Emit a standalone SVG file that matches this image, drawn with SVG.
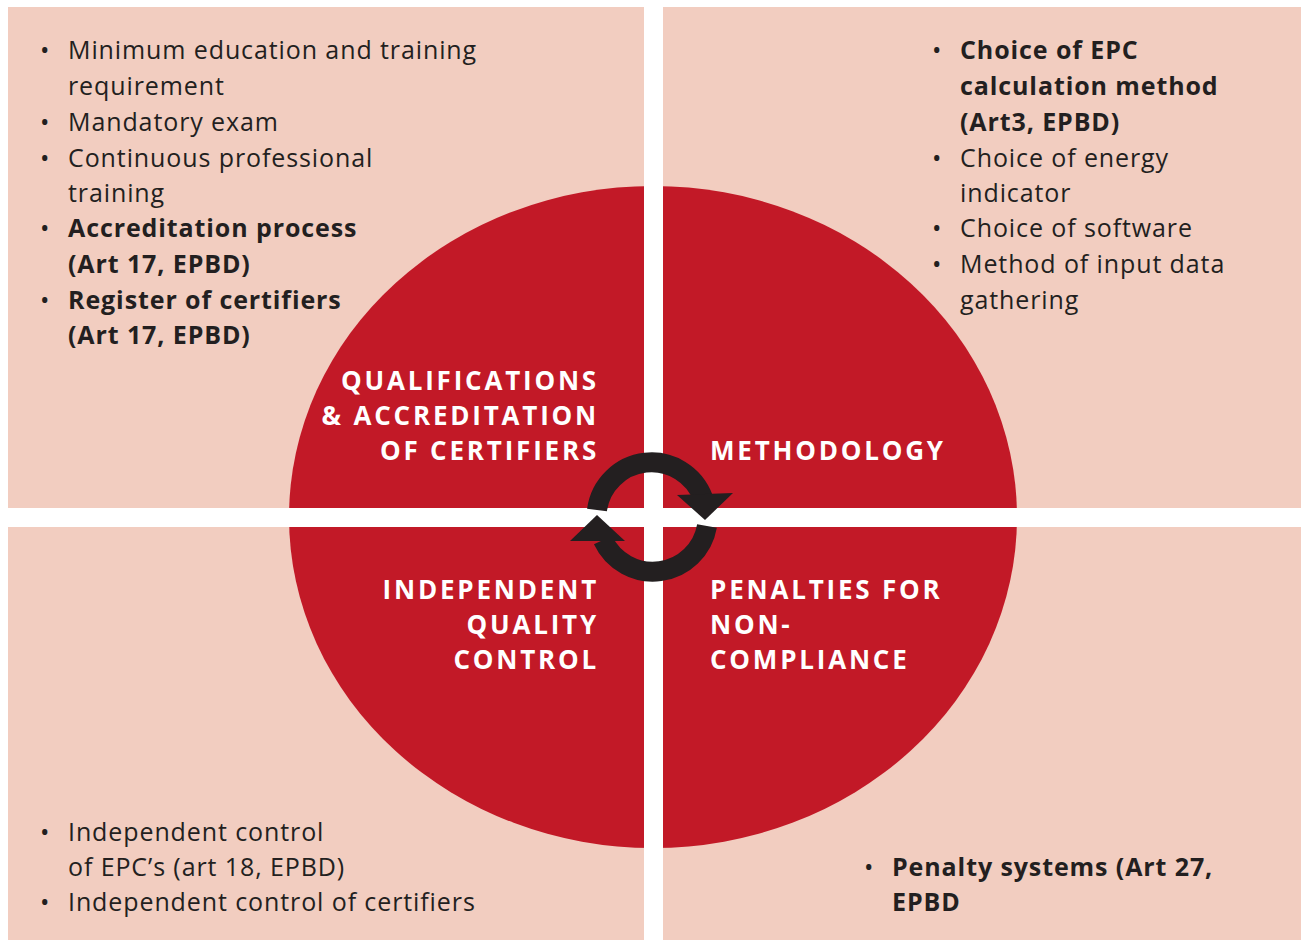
<svg xmlns="http://www.w3.org/2000/svg" width="1301" height="940" viewBox="0 0 1301 940">
<style>
.panel{fill:#F2CDC0}
.red{fill:#C21927}
.t{font-family:"Open Sans","Noto Sans","Liberation Sans",sans-serif;font-size:25px;letter-spacing:0.9px;fill:#231F20}
.b{font-weight:bold}
.lab{font-family:"Open Sans","Noto Sans","Liberation Sans",sans-serif;font-size:26px;letter-spacing:2.8px;font-weight:bold;fill:#FFFFFF}
.r{text-anchor:end}
.ring{fill:none;stroke:#231F20;stroke-width:20}
.head{fill:#231F20}
</style>
<rect width="1301" height="940" fill="#FFFFFF"/>
<g id="panels">
<rect class="panel" x="8" y="7" width="636" height="501"/>
<rect class="panel" x="663" y="7" width="638" height="501"/>
<rect class="panel" x="8" y="527" width="636" height="413"/>
<rect class="panel" x="663" y="527" width="638" height="413"/>
</g>
<g id="circle">
<ellipse class="red" cx="653" cy="517" rx="364" ry="331"/>
<rect x="644" y="0" width="19" height="940" fill="#FFFFFF"/>
<rect x="0" y="508" width="1301" height="19" fill="#FFFFFF"/>
</g>
<g id="qualifications">
<text class="lab r" x="599" y="390">QUALIFICATIONS</text>
<text class="lab r" x="599" y="425">&amp; ACCREDITATION</text>
<text class="lab r" x="599" y="460">OF CERTIFIERS</text>
<g class="t">
<text x="40" y="59">•</text><text x="68" y="59">Minimum education and training</text>
<text x="68" y="95">requirement</text>
<text x="40" y="131">•</text><text x="68" y="131">Mandatory exam</text>
<text x="40" y="167">•</text><text x="68" y="167">Continuous professional</text>
<text x="68" y="202">training</text>
<text x="40" y="237">•</text><text class="b" x="68" y="237">Accreditation process</text>
<text class="b" x="68" y="273">(Art 17, EPBD)</text>
<text x="40" y="309">•</text><text class="b" x="68" y="309">Register of certifiers</text>
<text class="b" x="68" y="344">(Art 17, EPBD)</text>
</g>
</g>
<g id="methodology">
<text class="lab" x="710" y="460">METHODOLOGY</text>
<g class="t">
<text x="932" y="59">•</text><text class="b" x="960" y="59">Choice of EPC</text>
<text class="b" x="960" y="95">calculation method</text>
<text class="b" x="960" y="131">(Art3, EPBD)</text>
<text x="932" y="167">•</text><text x="960" y="167">Choice of energy</text>
<text x="960" y="202">indicator</text>
<text x="932" y="237">•</text><text x="960" y="237">Choice of software</text>
<text x="932" y="273">•</text><text x="960" y="273">Method of input data</text>
<text x="960" y="309">gathering</text>
</g>
</g>
<g id="quality">
<text class="lab r" x="599" y="599">INDEPENDENT</text>
<text class="lab r" x="599" y="634">QUALITY</text>
<text class="lab r" x="599" y="669">CONTROL</text>
<g class="t">
<text x="40" y="841">•</text><text x="68" y="841">Independent control</text>
<text x="68" y="876">of EPC’s (art 18, EPBD)</text>
<text x="40" y="911">•</text><text x="68" y="911">Independent control of certifiers</text>
</g>
</g>
<g id="penalties">
<text class="lab" x="710" y="599">PENALTIES FOR</text>
<text class="lab" x="710" y="634">NON-</text>
<text class="lab" x="710" y="669">COMPLIANCE</text>
<g class="t">
<text x="864" y="876">•</text><text class="b" x="892" y="876">Penalty systems (Art 27,</text>
<text class="b" x="892" y="911">EPBD</text>
</g>
</g>
<g id="connectors">
<path class="ring" d="M 597 510 A 55 55 0 0 1 703 498"/>
<polygon class="head" points="677,495 733,493 705,520"/>
<path class="ring" d="M 707 526 A 55 55 0 0 1 603 540"/>
<polygon class="head" points="570,541 625,541 597,515"/>
</g>
</svg>
